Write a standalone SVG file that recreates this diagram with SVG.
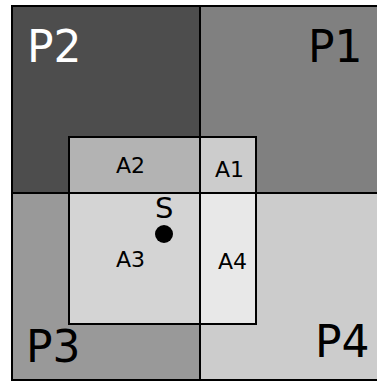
<svg xmlns="http://www.w3.org/2000/svg" width="377" height="381" viewBox="0 0 377 381">
<style>
.q{stroke:#000;stroke-width:2}
.big{font-family:"DejaVu Sans",sans-serif;font-size:44px}
.sm{font-family:"DejaVu Sans",sans-serif;font-size:22px;fill:#000}
</style>
<rect width="377" height="381" fill="#fff"/>
<g id="P2"><rect class="q" x="12" y="6" width="188" height="187" fill="#4d4d4d"/><text class="big" x="27" y="62" fill="#fff">P2</text></g>
<g id="P1"><rect class="q" x="200" y="6" width="189" height="187" fill="#808080"/><text class="big" x="308" y="62" fill="#000">P1</text></g>
<g id="P3"><rect class="q" x="12" y="193" width="188" height="187" fill="#999999"/><text class="big" x="26" y="362" fill="#000">P3</text></g>
<g id="P4"><rect class="q" x="200" y="193" width="189" height="187" fill="#cccccc"/><text class="big" x="315" y="357" fill="#000">P4</text></g>
<g id="A2"><rect class="q" x="69" y="137" width="131" height="56" fill="#b3b3b3"/><text class="sm" x="116" y="173">A2</text></g>
<g id="A1"><rect class="q" x="200" y="137" width="56" height="56" fill="#cccccc"/><text class="sm" x="215" y="177">A1</text></g>
<g id="A3"><rect class="q" x="69" y="193" width="131" height="131" fill="#d4d4d4"/><text class="sm" x="116" y="267">A3</text></g>
<g id="A4"><rect class="q" x="200" y="193" width="56" height="131" fill="#e8e8e8"/><text class="sm" x="218" y="269">A4</text></g>
<g id="S"><circle cx="164" cy="234" r="9" fill="#000"/><text x="155" y="218" font-family="DejaVu Sans, sans-serif" font-size="29" fill="#000">S</text></g>
</svg>
